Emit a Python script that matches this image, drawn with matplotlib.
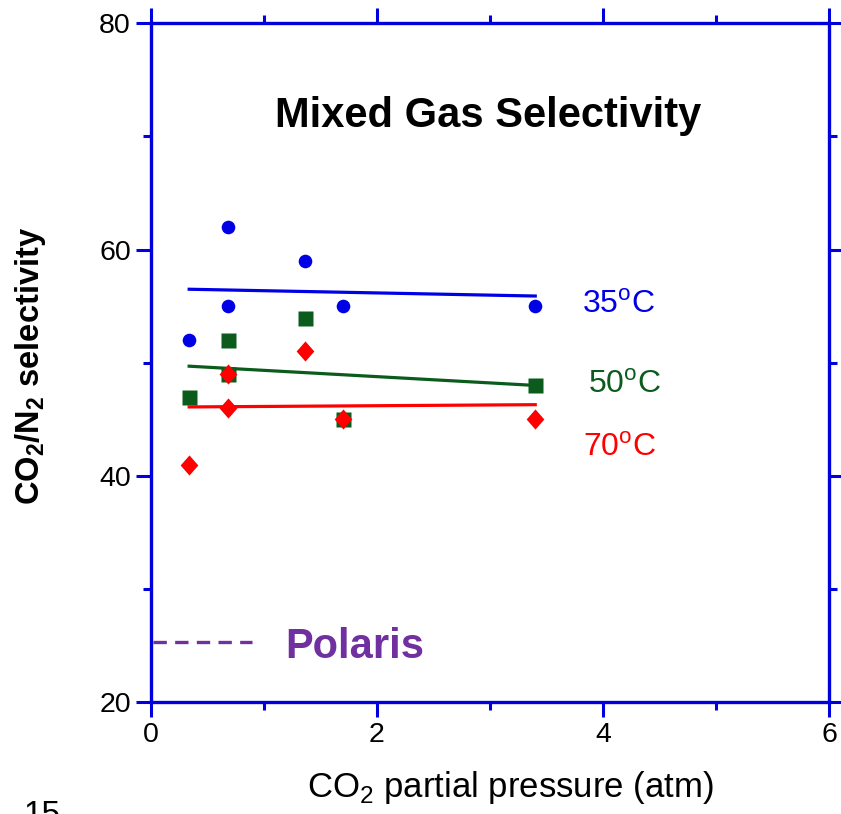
import matplotlib
matplotlib.use('Agg')
import matplotlib.pyplot as plt
from matplotlib.ticker import MultipleLocator

# ---- data ----
x_pts = [0.34, 0.68, 0.68, 1.36, 1.70, 3.40]
sel_35 = [52, 62, 55, 59, 55, 55]
sel_50 = [47, 52, 49, 54, 45, 48]
sel_70 = [41, 49, 46, 51, 45, 45]

# trend lines (end points)
fit_x = [0.34, 3.40]
fit_35 = [56.5, 55.9]
fit_50 = [49.7, 48.0]
fit_70 = [46.1, 46.3]

polaris_x = [0.02, 0.90]
polaris_y = [25.3, 25.3]

plt.rcParams['font.family'] = ['Liberation Sans', 'DejaVu Sans']
plt.rcParams['mathtext.fontset'] = 'custom'
plt.rcParams['mathtext.rm'] = 'Liberation Sans'
plt.rcParams['mathtext.bf'] = 'Liberation Sans:bold'

BLUE = '#0000E6'
GREEN = '#0B5C1C'
RED = '#FF0000'
PURPLE = '#7030A0'
AXIS = '#0000DD'

fig = plt.figure(figsize=(8.41, 8.14), dpi=100)
ax = fig.add_axes([0.1792, 0.1372, 0.8069, 0.8342])

# trend lines
ax.plot(fit_x, fit_35, color=BLUE, lw=2.3, zorder=2)
ax.plot(fit_x, fit_50, color=GREEN, lw=2.3, zorder=2)
ax.plot(fit_x, fit_70, color=RED, lw=2.3, zorder=2)

# data points
diamond = [(0, 1), (0.88, 0), (0, -1), (-0.88, 0)]
ax.plot(x_pts, sel_35, 'o', color=BLUE, ms=9.8, mec='none', zorder=3)
ax.plot(x_pts, sel_50, 's', color=GREEN, ms=10.8, mec='none', zorder=4)
ax.plot(x_pts, sel_70, marker=diamond, ls='none', color=RED, ms=14.5, mec='none', zorder=5)

# Polaris reference
ax.plot(polaris_x, polaris_y, color=PURPLE, lw=2.4, dashes=(4.0, 2.5), zorder=2)
ax.text(1.19, 23.9, 'Polaris', color=PURPLE, fontsize=30, fontweight='bold', va='baseline', ha='left')

# labels inside the plot
ax.text(1.10, 70.8, 'Mixed Gas Selectivity', color='black', fontsize=30, fontweight='bold',
        va='baseline', ha='left')
ax.text(3.81, 54.4, r'35$^{\mathrm{o}}$C', color=BLUE, fontsize=23, va='baseline', ha='left')
ax.text(3.87, 47.3, r'50$^{\mathrm{o}}$C', color=GREEN, fontsize=23, va='baseline', ha='left')
ax.text(3.82, 41.8, r'70$^{\mathrm{o}}$C', color=RED, fontsize=23, va='baseline', ha='left')

ax.set_xlim(0, 6)
ax.set_ylim(20, 80)
ax.xaxis.set_major_locator(MultipleLocator(2))
ax.xaxis.set_minor_locator(MultipleLocator(1))
ax.yaxis.set_major_locator(MultipleLocator(20))
ax.yaxis.set_minor_locator(MultipleLocator(10))

for s in ax.spines.values():
    s.set_color(AXIS)
    s.set_linewidth(2.4)

ax.tick_params(which='both', direction='out', top=True, right=True, color=AXIS,
               labelsize=20.5, pad=3.5, width=2.2)
ax.tick_params(which='major', length=10.8)
ax.tick_params(which='minor', length=5.8)

# axis titles
fig.text(510.5 / 841, 0.0209, r'CO$_2$ partial pressure (atm)', fontsize=25,
         ha='center', va='baseline')
fig.text(31 / 841, 1 - 366 / 814, r'CO$_\mathbf{2}$/N$_\mathbf{2}$ selectivity', fontsize=23.5,
         fontweight='bold', rotation=90, ha='center', va='center')

# slide page number (cut at the bottom edge)
fig.text(23 / 841, -0.012, '15', fontsize=24, ha='left', va='baseline')

fig.savefig('out.png', dpi=100)
